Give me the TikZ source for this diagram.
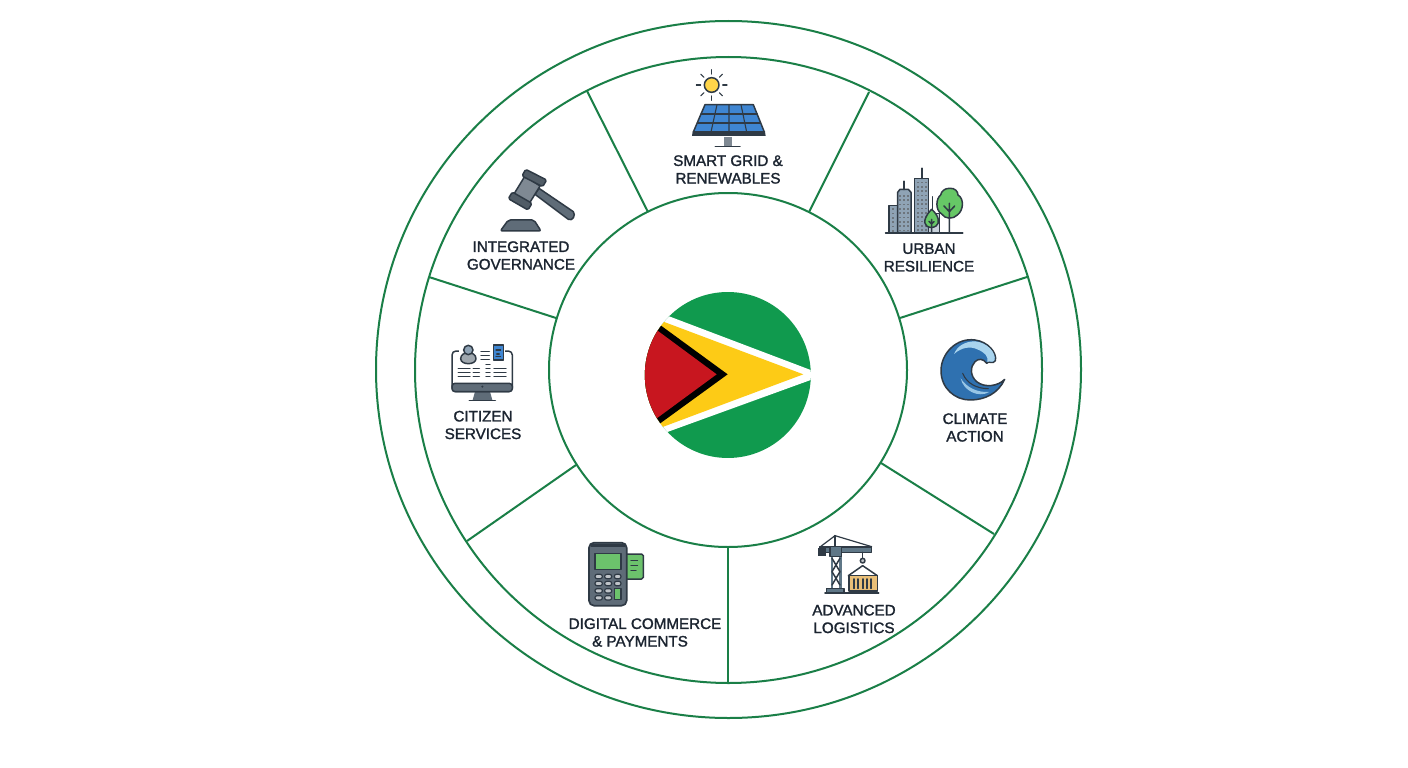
\documentclass[tikz,border=0pt]{standalone}
\usepackage{fontspec}
\newfontfamily\lblfont[FakeBold=1.5]{Liberation Sans}
\usetikzlibrary{calc,shapes.geometric}
\definecolor{ring}{HTML}{1A7F47}
\definecolor{ink}{HTML}{1B2430}
\definecolor{slate}{HTML}{5F6C78}
\definecolor{dslate}{HTML}{2F3A45}
\definecolor{flaggreen}{HTML}{109A4E}
\definecolor{flagred}{HTML}{C8161F}
\definecolor{flagyellow}{HTML}{FDCB16}
\definecolor{panelblue}{HTML}{3F86D2}
\definecolor{sunny}{HTML}{FFD54A}
\definecolor{leaf}{HTML}{66C766}
\definecolor{bldg}{HTML}{8FA3B5}
\definecolor{wave}{HTML}{2F71B0}
\definecolor{wavelight}{HTML}{A9D4EE}
\definecolor{tan}{HTML}{E9BF78}
\definecolor{steel}{HTML}{5F7787}
\definecolor{posgreen}{HTML}{6CC26C}
\tikzset{
  ringline/.style={draw=ring,line width=2pt,ellipse,inner sep=0pt},
  spoke/.style={draw=ring,line width=2pt},
  lbl/.style={text=ink,align=center,inner sep=0pt,font=\lblfont\fontsize{15.2}{17.6}\selectfont},
  ic/.style={draw=dslate,line width=1.5pt,line join=round,line cap=round},
  thinl/.style={draw=dslate,line width=1.1pt,line cap=round},
  icon/.style={x=0.3333pt,y=-0.3333pt}
}
\begin{document}
\begin{tikzpicture}[x=1pt,y=-1pt]
\useasboundingbox (0,0) rectangle (1408,768);
\fill[white] (0,0) rectangle (1408,768);
% rings
\node[ringline,minimum width=705pt,minimum height=697pt] (outer) at (728.5,369.5) {};
\node[ringline,minimum width=627pt,minimum height=626pt] (middle) at (728.5,370) {};
\node[ringline,minimum width=358pt,minimum height=354pt] (inner) at (728,370) {};
% spokes
\coordinate (m1) at (587,91);   \coordinate (i1) at (648,212);
\coordinate (m2) at (869,92);   \coordinate (i2) at (809,212);
\coordinate (m3) at (1027,277); \coordinate (i3) at (900,318);
\coordinate (m4) at (994,534);  \coordinate (i4) at (881,463);
\coordinate (m5) at (728,683);  \coordinate (i5) at (728,547);
\coordinate (m6) at (467,541);  \coordinate (i6) at (576,465);
\coordinate (m7) at (429,277);  \coordinate (i7) at (556,318);
\foreach \k in {1,...,7} \draw[spoke] (m\k) -- (i\k);
% labels
\node[lbl] (tsolar) at (728,169.5) {SMART GRID \&\\RENEWABLES};
\node[lbl] (turban) at (929,257.5) {URBAN\\RESILIENCE};
\node[lbl] (tclimate) at (975,427.5) {CLIMATE\\ACTION};
\node[lbl] (tlog) at (854,619) {ADVANCED\\LOGISTICS};
\node[lbl] (tpay) at (645,632.5) {DIGITAL COMMERCE\\\hbox{\& PAYMENTS\kern10pt}};
\node[lbl] (tcit) at (483,425) {CITIZEN\\SERVICES};
\node[lbl] (tgov) at (521,255.5) {INTEGRATED\\GOVERNANCE};
% flag
\begin{scope}[shift={(635,285)},icon]
\begin{scope}
\clip (278.5,270) circle[radius=249];
\fill[flaggreen] (0,0) rectangle (560,540);
\fill[white] (0,60) -- (105,95) -- (527,255) -- (545,270) -- (527,285) -- (100,440) -- (0,480) -- cycle;
\fill[flagyellow] (0,78) -- (505,268) -- (0,457) -- cycle;
\fill[black] (0,65) -- (278,268) -- (0,470) -- cycle;
\fill[flagred] (0,87) -- (245,268) -- (0,448) -- cycle;
\end{scope}
\end{scope}
% solar
\begin{scope}[shift={(660,60)},icon]
\foreach \a in {0,45,...,315} \draw[thinl] ($(155,75)+(\a:33 and 33)$) -- ($(155,75)+(\a:46 and 46)$);
\draw[ic,fill=sunny] (155,75) circle[radius=22];
\fill[panelblue] (135,134) -- (280,134) -- (313,216) -- (100,216) -- cycle;
\draw[ic] (135,134) -- (280,134) -- (313,216) -- (100,216) -- cycle;
\draw[thinl] (123,162) -- (292,162) (112,189) -- (302,189);
\draw[thinl] (171,134) -- (153,216) (207,134) -- (207,216) (243,134) -- (260,216);
\fill[dslate] (98,215) -- (315,215) -- (317,228) -- (96,228) -- cycle;
\fill[slate!80] (191,230) rectangle (215,258);
\draw[ic] (166,260) -- (240,260);
\end{scope}
% urban
\begin{scope}[shift={(870,160)},icon]
\draw[ic,fill=bldg] (57,136) rectangle (83,218);
\draw[ic,fill=bldg] (83,97) -- (90,88) -- (115,88) -- (123,97) -- (123,218) -- (83,218) -- cycle;
\draw[ic,line width=2pt] (102,64) -- (102,88);
\draw[ic,fill=bldg] (134,55) -- (176,55) -- (176,218) -- (134,218) -- cycle;
\draw[ic,line width=2pt] (155,25) -- (155,55);
\draw[ic,fill=bldg!50] (176,160) rectangle (208,218);
\draw[ic,line width=1.1pt] (187,110) -- (187,160);
\foreach \x in {90,102,114} \foreach \y in {105,118,...,210} \fill[dslate!70] (\x-3,\y) rectangle (\x+3,\y+5);
\foreach \x in {143,155,167} \foreach \y in {65,78,...,210} \fill[dslate!70] (\x-3,\y) rectangle (\x+3,\y+5);
\foreach \y in {145,158,...,210} \fill[dslate!70] (67,\y) rectangle (73,\y+5);
\draw[ic,fill=leaf] (185,148) .. controls (205,165) and (212,190) .. (198,198) .. controls (190,204) and (178,204) .. (170,198) .. controls (156,188) and (170,162) .. (185,148) -- cycle;
\draw[ic] (185,178) -- (185,218) (185,192) -- (177,184) (185,192) -- (192,185);
\draw[ic,fill=leaf] (238,85) .. controls (255,83) and (264,95) .. (264,105) .. controls (282,115) and (282,150) .. (262,165) .. controls (250,178) and (225,178) .. (215,162) .. controls (195,150) and (198,115) .. (212,105) .. controls (214,93) and (225,85) .. (238,85) -- cycle;
\draw[ic] (238,130) -- (238,218) (238,155) -- (222,138) (238,155) -- (254,138);
\draw[ic,line width=1.8pt] (47,220) -- (278,220);
\end{scope}
% wave
\begin{scope}[shift={(920,330)},icon]
\draw[ic,fill=wave] (165,30) .. controls (110,22) and (63,70) .. (63,122) .. controls (63,175) and (105,210) .. (150,210) .. controls (195,210) and (235,190) .. (254,148) .. controls (235,168) and (195,175) .. (170,155) .. controls (150,138) and (150,110) .. (165,95) .. controls (175,85) and (190,85) .. (200,100) .. controls (206,90) and (218,105) .. (226,92) .. controls (232,70) and (205,35) .. (165,30) -- cycle;
\fill[wavelight] (165,34) .. controls (135,34) and (112,48) .. (102,72) .. controls (125,52) and (150,48) .. (172,58) .. controls (195,68) and (205,78) .. (202,96) .. controls (208,90) and (218,102) .. (224,90) .. controls (228,70) and (205,38) .. (165,34) -- cycle;
\fill[wavelight!85!wave] (122,145) .. controls (140,172) and (170,188) .. (208,186) .. controls (175,205) and (130,182) .. (122,145) -- cycle;
\draw[ic,line width=1.1pt] (128,130) .. controls (140,160) and (170,176) .. (205,176);
\end{scope}
% crane
\begin{scope}[shift={(800,525)},icon]
\draw[draw=steel,line width=2.4pt] (96,70) -- (96,190) (121,70) -- (121,190);
\draw[ic,line width=1.5pt] (96,100) -- (120,140) -- (96,180) (120,100) -- (96,140) -- (120,180);
\draw[ic,fill=steel] (58,66) rectangle (215,82);
\draw[ic,fill=steel] (90,64) rectangle (125,95);
\fill[dslate] (55,68) rectangle (78,92);
\draw[ic,line width=1.2pt] (60,66) -- (105,32) -- (215,65);
\draw[ic,line width=1.8pt] (105,32) -- (105,64);
\draw[ic,fill=steel] (80,190) rectangle (132,202);
\draw[ic] (188,82) -- (188,100);
\draw[ic,fill=slate!40] (188,107) circle[radius=7];
\draw[ic] (145,152) -- (188,122) -- (232,152);
\draw[ic,fill=tan] (147,152) rectangle (232,198);
\foreach \x in {162,175,...,220} \draw[thinl,line width=1.7pt] (\x,162) -- (\x,190);
\draw[ic,line width=1.6pt] (75,204) -- (236,204);
\end{scope}
% payment terminal
\begin{scope}[shift={(560,530)},icon]
\draw[ic,fill=posgreen] (198,72) -- (245,72) -- (250,77) -- (250,142) -- (245,147) -- (198,147) -- cycle;
\draw[thinl] (213,92) -- (233,92) (213,107) -- (233,107) (213,122) -- (228,122);
\draw[ic,line width=1.7pt,fill=slate,rounded corners=5pt] (87,38) rectangle (200,227);
\fill[dslate] (92,41) rectangle (195,50);
\draw[ic,fill=posgreen] (105,70) rectangle (183,118);
\foreach \y in {133,154,176,197} \draw[ic,line width=1.2pt,fill=slate!40,rounded corners=2pt] (105,\y) rectangle (127,\y+13);
\foreach \y in {133,154,176,197} \draw[ic,line width=1.2pt,fill=slate!40,rounded corners=2pt] (134,\y) rectangle (155,\y+13);
\foreach \y in {133,154} \draw[ic,line width=1.2pt,fill=slate!40,rounded corners=2pt] (163,\y) rectangle (183,\y+13);
\draw[ic,line width=1.2pt,fill=posgreen] (164,175) rectangle (183,208);
\end{scope}
% monitor
\begin{scope}[shift={(440,330)},icon]
\fill[slate] (105,185) -- (150,185) -- (157,210) -- (98,210) -- cycle;
\draw[ic] (88,211) -- (166,211);
\draw[ic,fill=white,rounded corners=4pt] (58,63) -- (36,63) -- (36,185) -- (217,185) -- (217,63) -- (195,63);
\fill[white] (58,50) rectangle (195,66);
\draw[ic,fill=slate,rounded corners=3pt] (36,160) rectangle (217,185);
\fill[dslate] (127,170) circle[radius=3.5];
\draw[ic,fill=slate!60] (62,86) .. controls (62,62) and (108,62) .. (108,86) .. controls (108,106) and (62,106) .. (62,86) -- cycle;
\draw[ic,fill=bldg] (85,60) circle[radius=14];
\draw[thinl,line width=1.4pt] (123,64) -- (148,64) (123,76) -- (148,76) (123,88) -- (148,88);
\draw[ic,fill=panelblue] (160,45) rectangle (190,90);
\draw[thinl] (168,60) -- (182,60) (170,72) -- (178,72) (168,80) -- (182,80);
\foreach \y in {115,127,139} {\draw[thinl,line width=1.4pt] (55,\y) -- (90,\y) (100,\y) -- (118,\y) (138,\y) -- (150,\y) (162,\y) -- (198,\y);}
\draw[thinl,line width=1.4pt] (138,103) -- (150,103);
\end{scope}
% gavel
\begin{scope}[shift={(460,160)},icon]
\draw[ic,fill=slate] (225,103) -- (237,85) -- (340,155) .. controls (348,165) and (338,185) .. (325,178) -- cycle;
\draw[ic,fill=slate!80] (195,48) -- (240,78) -- (205,135) -- (160,105) -- cycle;
\draw[ic,fill=slate!85!black,rounded corners=1.5pt] (197,28) -- (260,60) -- (248,80) -- (186,48) -- cycle;
\draw[ic,fill=slate!85!black,rounded corners=1.5pt] (157,96) -- (216,130) -- (204,150) -- (145,116) -- cycle;
\draw[ic,fill=slate,rounded corners=2pt] (145,180) -- (222,180) -- (243,213) -- (121,213) -- cycle;
\end{scope}
\end{tikzpicture}
\end{document}
